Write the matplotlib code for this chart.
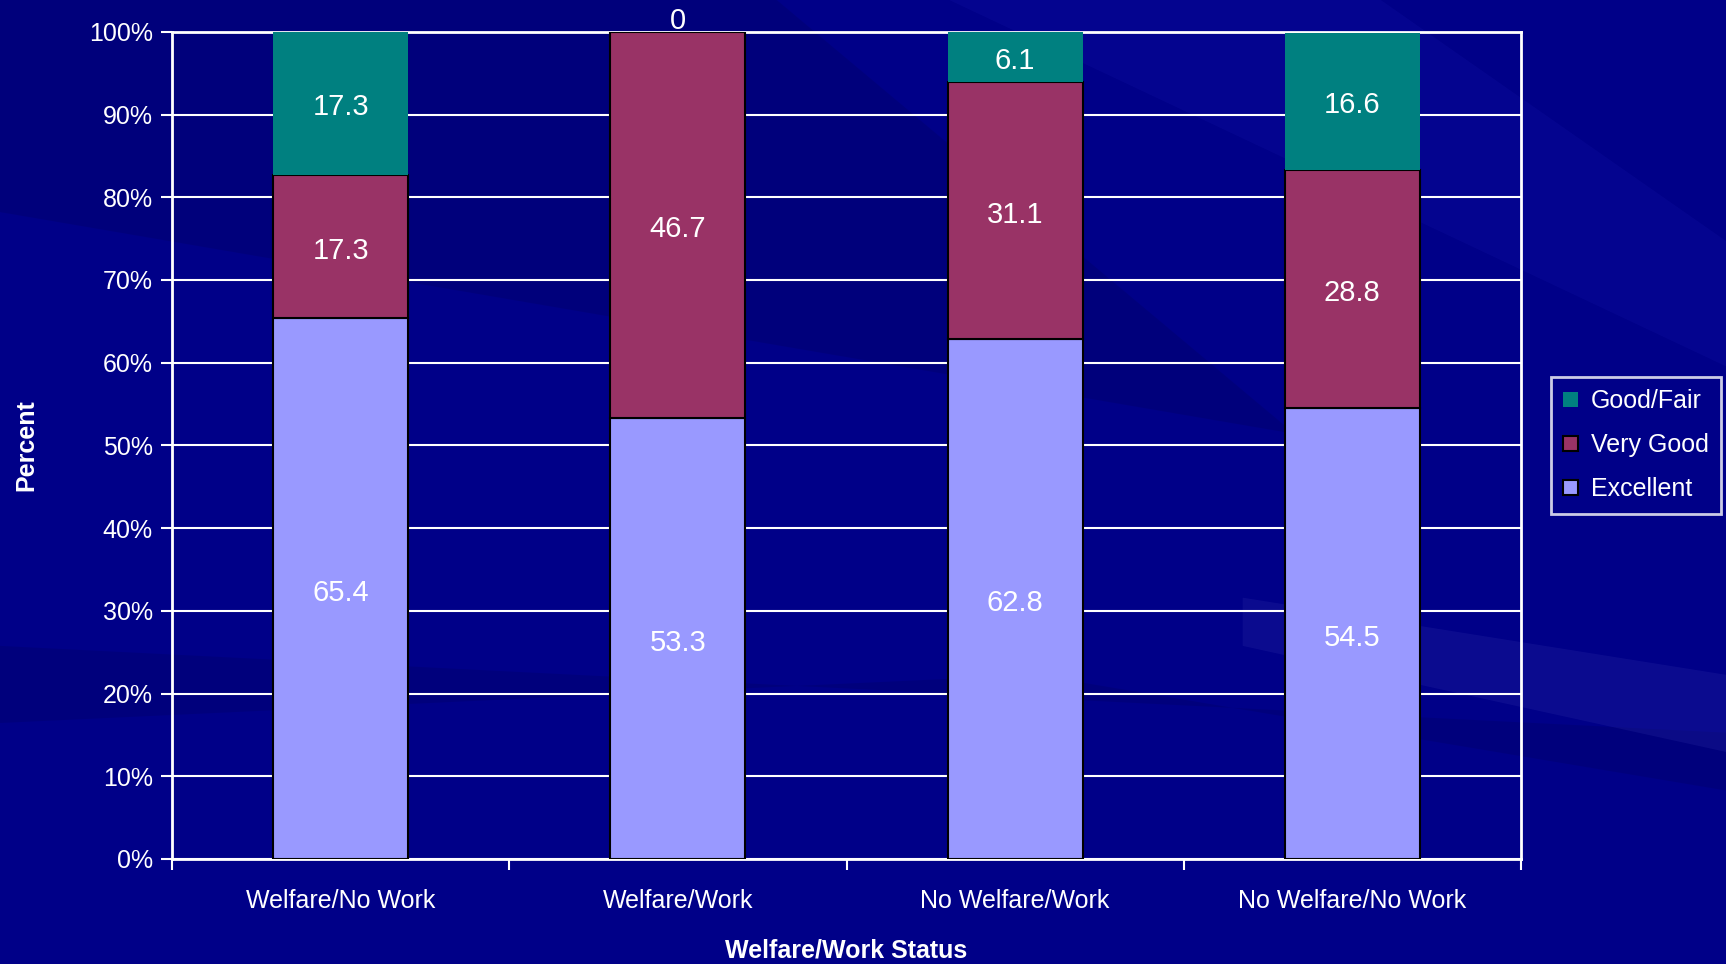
import numpy as np
import matplotlib
matplotlib.use("Agg")
import matplotlib.pyplot as plt
from matplotlib.patches import Polygon

plt.rcParams['font.family'] = ['Liberation Sans', 'DejaVu Sans']

# Data
categories = ['Welfare/No Work', 'Welfare/Work', 'No Welfare/Work', 'No Welfare/No Work']
excellent = [65.4, 53.3, 62.8, 54.5]
very_good = [17.3, 46.7, 31.1, 28.8]
good_fair = [17.3, 0, 6.1, 16.6]
series_names = ['Excellent', 'Very Good', 'Good/Fair']
series_colors = ['#9999ff', '#993366', '#008080']
y_ticks = [0, 10, 20, 30, 40, 50, 60, 70, 80, 90, 100]

bg = '#000088'
fig = plt.figure(figsize=(17.26, 9.64), dpi=100, facecolor=bg)

# background streaks (subtle)
streaks = [
    ([(0, 1), (0.45, 1), (0.75, 0.55), (0, 0.78)], '#000070', 0.5),
    ([(0, 0.25), (0.6, 0.30), (1.0, 0.18), (1.0, 0.24), (0, 0.33)], '#00006c', 0.4),
    ([(0.72, 0.38), (1.0, 0.30), (1.0, 0.22), (0.72, 0.33)], '#3a3ab0', 0.2),
    ([(0.55, 1), (0.8, 1), (1.0, 0.75), (1.0, 0.62)], '#1010a0', 0.3),
]
for pts, c, a in streaks:
    fig.add_artist(Polygon(pts, closed=True, transform=fig.transFigure,
                           facecolor=c, edgecolor='none', alpha=a, zorder=-10))

ax = fig.add_axes([0.0997, 0.109, 0.7815, 0.858])
ax.patch.set_alpha(0)

x = np.arange(len(categories))
width = 0.40
bottom = np.zeros(len(categories))
for name, vals, col in zip(series_names, [excellent, very_good, good_fair], series_colors):
    ec = 'none' if name == 'Good/Fair' else 'black'
    ax.bar(x, vals, width, bottom=bottom, color=col, edgecolor=ec, linewidth=1.5,
           label=name, zorder=3)
    for xi, b, v in zip(x, bottom, vals):
        if v == 0:
            ax.text(xi, b + v + 0.4, f'{v:g}', ha='center', va='baseline',
                    color='white', fontsize=21, zorder=5)
        else:
            ax.text(xi, b + v / 2 - 0.5, f'{v:g}', ha='center', va='center',
                    color='white', fontsize=21, zorder=5)
    bottom += np.array(vals)

ax.set_xlim(-0.5, len(categories) - 0.5)
ax.set_ylim(0, 100)
ax.set_yticks(y_ticks)
ax.set_yticklabels([f'{t}%' for t in y_ticks])
ax.yaxis.grid(True, color='white', linewidth=1.5, zorder=0)
ax.set_axisbelow(True)

ax.set_xticks(x)
ax.set_xticklabels(categories)
ax.set_xticks(np.arange(-0.5, len(categories), 1.0), minor=True)
ax.tick_params(axis='x', which='major', length=0, pad=22, labelsize=18, colors='white')
ax.tick_params(axis='x', which='minor', length=8, width=1.5, color='white', direction='out')
ax.tick_params(axis='y', length=8, width=1.5, color='white', labelsize=18,
               labelcolor='white', pad=6)

for s in ax.spines.values():
    s.set_color('white')
    s.set_linewidth(2)

ax.set_xlabel('Welfare/Work Status', color='white', fontsize=18, fontweight='bold',
              labelpad=18)
ax.set_ylabel('Percent', color='white', fontsize=18, fontweight='bold', labelpad=36)

h, l = ax.get_legend_handles_labels()
leg = ax.legend(h[::-1], l[::-1], loc='center left', bbox_to_anchor=(1.022, 0.5),
                frameon=True, fancybox=False, fontsize=18, handlelength=0.6,
                handleheight=0.6, handletextpad=0.5, labelspacing=0.8,
                borderpad=0.5, borderaxespad=0)
leg.get_frame().set_facecolor(bg)
leg.get_frame().set_edgecolor('white')
leg.get_frame().set_linewidth(2)
for t in leg.get_texts():
    t.set_color('white')

fig.savefig('out.png', dpi=100, facecolor=bg)
